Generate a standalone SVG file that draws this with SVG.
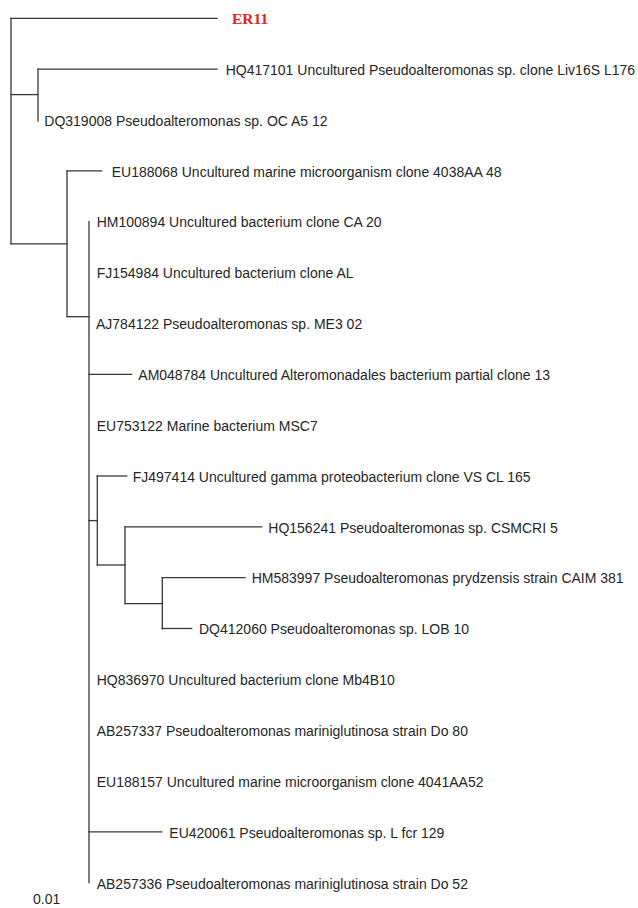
<svg xmlns="http://www.w3.org/2000/svg" width="638" height="908" viewBox="0 0 638 908">
<style>
.br{fill:none;stroke:#3a3636;stroke-width:1.3;stroke-linecap:square}
.lb{font-family:"Liberation Sans",Arial,sans-serif;font-size:14px;fill:#262626}
.er{font-family:"Liberation Serif","Times New Roman",serif;font-size:15.5px;font-weight:bold;fill:#e3211f}
</style>
<rect width="638" height="908" fill="#ffffff"/>
<g id="connectors">
<path class="br" d="M11 18.3V243.8"/>
<path class="br" d="M11 18.3H217"/>
<path class="br" d="M11 94.6H38"/>
<path class="br" d="M38 69.2V121"/>
<path class="br" d="M38 69.2H217"/>
<path class="br" d="M11 243.8H67"/>
<path class="br" d="M67 170.9V316.7"/>
<path class="br" d="M67 170.9H101.7"/>
<path class="br" d="M67 316.7H89"/>
<path class="br" d="M89 221.7V882.5"/>
<path class="br" d="M89 374.3H131.7"/>
<path class="br" d="M89 520.6H97.3"/>
<path class="br" d="M97.3 476V565"/>
<path class="br" d="M97.3 476H126.7"/>
<path class="br" d="M97.3 565H125"/>
<path class="br" d="M125 526.8V603.6"/>
<path class="br" d="M125 526.8H261.7"/>
<path class="br" d="M125 603.6H162.3"/>
<path class="br" d="M162.3 577.7V628.5"/>
<path class="br" d="M162.3 577.7H245"/>
<path class="br" d="M162.3 628.5H191.7"/>
<path class="br" d="M89 831.9H161.7"/>
</g>
<g id="ER11"><text class="er" x="232" y="24">ER11</text></g>
<g id="HQ417101"><text class="lb" x="225.7" y="74.9">HQ417101 Uncultured Pseudoalteromonas sp. clone Liv16S L176</text></g>
<g id="DQ319008"><text class="lb" x="44.3" y="125.7">DQ319008 Pseudoalteromonas sp. OC A5 12</text></g>
<g id="EU188068"><text class="lb" x="111.7" y="176.6">EU188068 Uncultured marine microorganism clone 4038AA 48</text></g>
<g id="HM100894"><text class="lb" x="96.7" y="227.4">HM100894 Uncultured bacterium clone CA 20</text></g>
<g id="FJ154984"><text class="lb" x="96.7" y="278.3">FJ154984 Uncultured bacterium clone AL</text></g>
<g id="AJ784122"><text class="lb" x="96" y="329.1">AJ784122 Pseudoalteromonas sp. ME3 02</text></g>
<g id="AM048784"><text class="lb" x="138.3" y="380">AM048784 Uncultured Alteromonadales bacterium partial clone 13</text></g>
<g id="EU753122"><text class="lb" x="96.7" y="430.8">EU753122 Marine bacterium MSC7</text></g>
<g id="FJ497414"><text class="lb" x="132.7" y="481.7">FJ497414 Uncultured gamma proteobacterium clone VS CL 165</text></g>
<g id="HQ156241"><text class="lb" x="268.3" y="532.5">HQ156241 Pseudoalteromonas sp. CSMCRI 5</text></g>
<g id="HM583997"><text class="lb" x="251.7" y="583.4">HM583997 Pseudoalteromonas prydzensis strain CAIM 381</text></g>
<g id="DQ412060"><text class="lb" x="199" y="634.2">DQ412060 Pseudoalteromonas sp. LOB 10</text></g>
<g id="HQ836970"><text class="lb" x="96.7" y="685.1">HQ836970 Uncultured bacterium clone Mb4B10</text></g>
<g id="AB257337"><text class="lb" x="96.7" y="735.9">AB257337 Pseudoalteromonas mariniglutinosa strain Do 80</text></g>
<g id="EU188157"><text class="lb" x="96.7" y="786.8">EU188157 Uncultured marine microorganism clone 4041AA52</text></g>
<g id="EU420061"><text class="lb" x="169.3" y="837.6">EU420061 Pseudoalteromonas sp. L fcr 129</text></g>
<g id="AB257336"><text class="lb" x="96.7" y="888.5">AB257336 Pseudoalteromonas mariniglutinosa strain Do 52</text></g>
<g id="scale"><text class="lb" x="33" y="904">0.01</text></g>
</svg>
